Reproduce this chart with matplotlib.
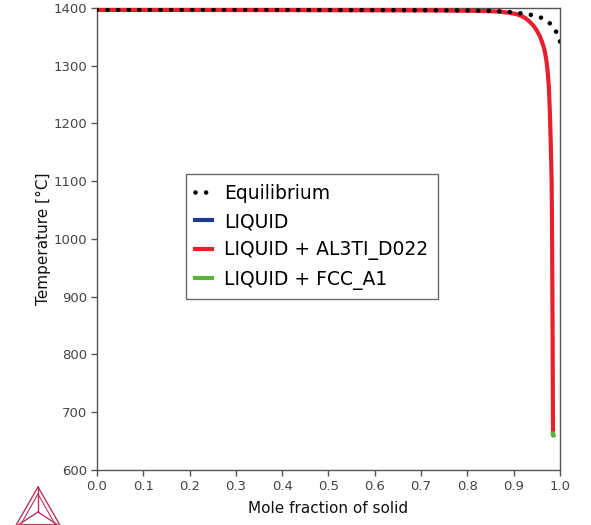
import matplotlib
matplotlib.use("Agg")
import matplotlib.pyplot as plt
from matplotlib.lines import Line2D

# Data
eq_x = [0.0, 0.2, 0.4, 0.6, 0.8, 0.860, 0.881, 0.905, 0.926, 0.948, 0.968, 0.984, 0.995, 1.0]
eq_t = [1397.0, 1397.0, 1396.8, 1396.5, 1395.8, 1394.8, 1393.6, 1391.9, 1389.6, 1386.7, 1380.4, 1369.3, 1354.5, 1342.0]

liq_x = [0.0, 0.0]
liq_t = [1398.5, 1397.5]

al3ti_x = [0.0, 0.2, 0.4, 0.6, 0.7, 0.8, 0.849, 0.870, 0.890, 0.905, 0.916, 0.926, 0.935, 0.943, 0.950,
           0.956, 0.960, 0.965, 0.968, 0.971, 0.973, 0.976, 0.978, 0.980, 0.982, 0.983, 0.984, 0.985]
al3ti_t = [1396.5, 1396.5, 1396.3, 1396.0, 1395.8, 1395.2, 1394.5, 1393.5, 1391.8, 1389.5, 1386.5, 1382.0, 1376, 1369, 1361,
           1352, 1344, 1332, 1322, 1307, 1293, 1264, 1223, 1170, 1100, 1000, 850, 662]

fcc_x = [0.985, 0.986]
fcc_t = [663, 660]

xticks = [0.0, 0.1, 0.2, 0.3, 0.4, 0.5, 0.6, 0.7, 0.8, 0.9, 1.0]
yticks = [600, 700, 800, 900, 1000, 1100, 1200, 1300, 1400]

fig = plt.figure(figsize=(5.91, 5.25), dpi=100)
ax = fig.add_axes([0.1641, 0.1048, 0.7834, 0.880])

dot_style = (0, (0.01, 2.3))
ax.plot(eq_x, eq_t, linestyle=dot_style, color="black", lw=3.3, dash_capstyle="round", zorder=4)
ax.plot(liq_x, liq_t, color="#1f3c8c", lw=2.5, zorder=3)
ax.plot(al3ti_x, al3ti_t, color="#e8202e", lw=3.0, zorder=3, solid_joinstyle="round")
ax.plot(fcc_x, fcc_t, color="#5bb33b", lw=3.0, zorder=3)

ax.set_xlim(0, 1)
ax.set_ylim(600, 1400)
ax.set_xticks(xticks)
ax.set_xticklabels([f"{v:.1f}" for v in xticks])
ax.set_yticks(yticks)
ax.tick_params(labelsize=9.5, labelcolor="#444444", color="#555555", direction="out", length=4, width=1.0, pad=3)
for s in ax.spines.values():
    s.set_color("#555555")
    s.set_linewidth(1.0)

ax.set_xlabel("Mole fraction of solid", fontsize=11, color="#111111", labelpad=6)
ax.set_ylabel("Temperature [°C]", fontsize=11, color="#111111", labelpad=1.5)

handles = [
    Line2D([0], [0], linestyle=dot_style, color="black", lw=3.3, dash_capstyle="round"),
    Line2D([0], [0], color="#1f3c8c", lw=3),
    Line2D([0], [0], color="#e8202e", lw=3),
    Line2D([0], [0], color="#5bb33b", lw=3),
]
labels = ["Equilibrium", "LIQUID", "LIQUID + AL3TI_D022", "LIQUID + FCC_A1"]
leg = ax.legend(handles, labels, loc="upper left", bbox_to_anchor=(0.192, 0.64),
                fontsize=13.5, handlelength=0.9, handletextpad=0.65, labelspacing=0.5,
                frameon=True, fancybox=False, borderpad=0.5, borderaxespad=0)
leg.get_frame().set_edgecolor("#444444")
leg.get_frame().set_linewidth(1.0)

# Thermo-Calc style logo (decorative)
lc = "#b8345a"
def fx(px): return px / 591
def fy(py): return 1 - py / 525
A = (fx(38), fy(487)); B = (fx(15), fy(527)); C = (fx(61), fy(527)); Cn = (fx(38), fy(512))
for p, q in [(A, B), (B, C), (C, A), (A, Cn), (B, Cn), (C, Cn)]:
    fig.add_artist(Line2D([p[0], q[0]], [p[1], q[1]], color=lc, lw=1.0, transform=fig.transFigure))
A2 = (fx(38), fy(494)); B2 = (fx(21), fy(524)); C2 = (fx(55), fy(524))
for p, q in [(A2, B2), (B2, C2), (C2, A2)]:
    fig.add_artist(Line2D([p[0], q[0]], [p[1], q[1]], color=lc, lw=0.8, transform=fig.transFigure))

fig.savefig("out.png", dpi=100)
